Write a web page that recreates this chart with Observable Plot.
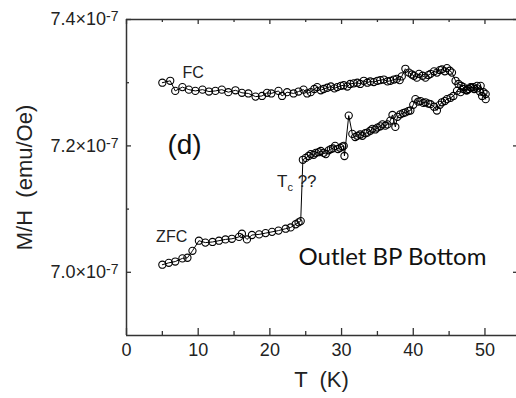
<!DOCTYPE html>
<html>
<head>
<meta charset="utf-8">
<script src="https://cdn.jsdelivr.net/npm/d3@7"></script>
<script src="https://cdn.jsdelivr.net/npm/@observablehq/plot@0.6"></script>
<style>
  html, body { margin: 0; padding: 0; background: #fff; }
  #chart { width: 516px; height: 398px; overflow: hidden; }
</style>
</head>
<body>
<div id="chart"></div>
<script>
// M/H values in units of 1e-7 emu/Oe
const fcT = [5.0, 6.1, 6.8, 7.8, 8.7, 9.6, 10.6, 11.5, 12.4, 13.3, 14.2, 15.2, 16.1, 17.0, 18.0, 18.9, 19.6, 20.2, 21.2, 21.7,
  22.4, 23.3, 24.0, 24.7, 25.2, 25.7, 26.2, 26.6, 27.1, 27.5, 28.0, 28.5, 29.0, 29.4, 29.9, 30.3, 30.8, 31.2, 31.7, 32.2,
  32.6, 33.1, 33.6, 34.0, 34.5, 35.0, 35.4, 35.9, 36.4, 36.8, 37.3, 37.7, 38.1, 38.4, 38.9, 39.4, 39.8, 40.1, 40.5, 40.8,
  41.3, 41.7, 42.1, 42.4, 42.9, 43.3, 43.7, 44.0, 44.4, 44.7, 45.1, 45.4, 45.9, 46.3, 46.7, 47.0, 47.4, 47.7, 48.1, 48.4,
  48.9, 49.4, 49.8, 50.1];
const fcM = [7.300, 7.303, 7.287, 7.293, 7.289, 7.287, 7.289, 7.286, 7.287, 7.289, 7.285, 7.288, 7.284, 7.283, 7.278, 7.279, 7.284, 7.283, 7.287, 7.279,
  7.285, 7.283, 7.286, 7.289, 7.283, 7.285, 7.290, 7.293, 7.288, 7.290, 7.292, 7.294, 7.291, 7.293, 7.295, 7.296, 7.294, 7.298, 7.299, 7.300,
  7.298, 7.303, 7.300, 7.302, 7.301, 7.303, 7.304, 7.305, 7.302, 7.303, 7.305, 7.306, 7.304, 7.310, 7.322, 7.316, 7.313, 7.311, 7.308, 7.314,
  7.311, 7.308, 7.312, 7.314, 7.318, 7.316, 7.320, 7.321, 7.318, 7.323, 7.319, 7.316, 7.303, 7.298, 7.295, 7.293, 7.288, 7.290, 7.292, 7.293,
  7.291, 7.295, 7.285, 7.274];

const zfcT = [5.0, 5.9, 6.8, 7.8, 8.5, 9.2, 10.1, 11.0, 12.0, 12.9, 13.8, 14.7, 15.7, 16.1, 16.8, 17.5, 18.5, 19.4, 20.3, 21.2,
  22.2, 22.9, 23.6, 24.0, 24.3, 24.6, 25.0, 25.4, 25.7, 26.1, 26.4, 26.8, 27.1, 27.5, 27.8, 28.2, 28.5, 28.8, 29.1, 29.5,
  29.8, 30.1, 30.3, 30.4, 31.0, 31.5, 31.9, 32.2, 32.6, 32.9, 33.3, 33.6, 34.0, 34.3, 34.7, 35.0, 35.4, 35.7, 36.1, 36.4,
  36.8, 37.1, 37.5, 37.8, 38.2, 38.6, 38.9, 39.3, 39.6, 40.0, 40.3, 40.7, 41.0, 41.4, 41.7, 42.1, 42.4, 42.9, 43.3, 43.7,
  44.0, 44.4, 44.7, 45.2, 45.6, 46.1, 46.6, 47.0, 47.5, 48.0, 48.5, 48.9, 49.3, 49.6, 50.1];
const zfcM = [7.012, 7.015, 7.017, 7.022, 7.023, 7.034, 7.050, 7.047, 7.048, 7.050, 7.052, 7.053, 7.056, 7.061, 7.052, 7.059, 7.060, 7.062, 7.064, 7.066,
  7.069, 7.071, 7.076, 7.079, 7.081, 7.178, 7.181, 7.184, 7.187, 7.186, 7.189, 7.190, 7.192, 7.189, 7.187, 7.193, 7.195, 7.196, 7.200, 7.195,
  7.197, 7.199, 7.200, 7.184, 7.248, 7.219, 7.214, 7.216, 7.218, 7.216, 7.220, 7.221, 7.224, 7.227, 7.226, 7.229, 7.231, 7.234, 7.232, 7.234,
  7.240, 7.249, 7.230, 7.246, 7.250, 7.252, 7.253, 7.255, 7.256, 7.265, 7.274, 7.270, 7.271, 7.268, 7.269, 7.267, 7.266, 7.262, 7.256, 7.265,
  7.269, 7.271, 7.274, 7.276, 7.279, 7.287, 7.285, 7.290, 7.288, 7.293, 7.290, 7.295, 7.286, 7.279, 7.282];

const xTicks = [0, 10, 20, 30, 40, 50];
const xMinor = [5, 15, 25, 35, 45];
const yTicks = [7.0, 7.2, 7.4];
const yMinor = [7.1, 7.3];
const yExponent = "-7";
const xTitle = "T  (K)";
const yTitle = "M/H  (emu/Oe)";

const annText = ["FC", "(d)", "ZFC", "Outlet BP Bottom"];
const annT = [9.3, 8.1, 6.3, 24.0];
const annM = [7.316, 7.2016, 7.0556, 7.0234];
const tcText = ["T", "c", " ??"];
const tcT = [21.0];
const tcM = [7.143];

const fc = fcT.map((t, i) => ({T: t, M: fcM[i]}));
const zfc = zfcT.map((t, i) => ({T: t, M: zfcM[i]}));
const ann = annText.map((s, i) => ({s, T: annT[i], M: annM[i]}));
const tc = tcT.map((t, i) => ({T: t, M: tcM[i], s: tcText.join("")}));

const W = 516, H = 398, mL = 126, mR = 0, mT = 19, mB = 63;
const fw = W - mL - mR, fh = H - mT - mB;
const ink = "#222";

const chart = Plot.plot({
  width: W, height: H,
  marginLeft: mL, marginRight: mR, marginTop: mT, marginBottom: mB,
  x: {domain: [0, 54.4]},
  y: {domain: [6.9, 7.4]},
  style: {fontFamily: "'Liberation Sans', Arial, sans-serif", background: "#fff", overflow: "visible"},
  marks: [
    // axis tick labels
    Plot.axisX(xTicks, {tickSize: 0, tickPadding: 8, fontSize: 18, label: null, fill: ink}),
    Plot.axisY(yTicks, {tickSize: 0, tickPadding: 8, fontSize: 18, label: null, fill: ink,
      tickFormat: d => d.toFixed(1) + "×10"}),
    // axis lines
    Plot.ruleX([0], {stroke: "#333", strokeWidth: 1.5}),
    Plot.ruleY([6.9, 7.4], {stroke: "#333", strokeWidth: 1.5}),
    // inward ticks
    Plot.tickX(xTicks, {x: d => d, insetTop: fh - 7, stroke: "#333", strokeWidth: 1.3}),
    Plot.tickX(xMinor, {x: d => d, insetTop: fh - 4, stroke: "#333", strokeWidth: 1.3}),
    Plot.tickX(xTicks, {x: d => d, insetBottom: fh - 5, stroke: "#333", strokeWidth: 1.3}),
    Plot.tickX(xMinor, {x: d => d, insetBottom: fh - 3, stroke: "#333", strokeWidth: 1.3}),
    Plot.tickY(yTicks, {y: d => d, insetRight: fw - 5, stroke: "#333", strokeWidth: 1.3}),
    Plot.tickY(yMinor, {y: d => d, insetRight: fw - 3, stroke: "#333", strokeWidth: 1.3}),
    Plot.tickY(yTicks, {y: d => d, insetLeft: fw - 3, stroke: "#333", strokeWidth: 1.3}),
    // data
    Plot.line(fc, {x: "T", y: "M", stroke: "#000", strokeWidth: 1}),
    Plot.line(zfc, {x: "T", y: "M", stroke: "#000", strokeWidth: 1}),
    Plot.dot(fc, {x: "T", y: "M", r: 3.6, stroke: "#000", strokeWidth: 1.1, fill: "none"}),
    Plot.dot(zfc, {x: "T", y: "M", r: 3.6, stroke: "#000", strokeWidth: 1.1, fill: "none"}),
    // annotations
    Plot.text(ann.slice(0, 1), {x: "T", y: "M", text: "s", fontSize: 16, fill: ink}),
    Plot.text(ann.slice(1, 2), {x: "T", y: "M", text: "s", fontSize: 28, fill: "#111"}),
    Plot.text(ann.slice(2, 3), {x: "T", y: "M", text: "s", fontSize: 16, fill: ink}),
    Plot.text(ann.slice(3, 4), {x: "T", y: "M", text: "s", fontSize: 24, fill: "#111",
      textAnchor: "start", fontFamily: "Lato, 'Open Sans', sans-serif"}),
    Plot.text(tc, {x: "T", y: "M", text: "s", fontSize: 17, fill: ink, textAnchor: "start"}),
    // axis titles
    Plot.text([xTitle], {frameAnchor: "bottom", dy: 51, fontSize: 22, fill: ink}),
    Plot.text([yTitle], {frameAnchor: "left", textAnchor: "middle", dx: -102, rotate: -90, fontSize: 22, fill: ink})
  ]
});

// superscript exponents on y tick labels
chart.querySelectorAll('g[aria-label="y-axis tick label"] text').forEach(t => {
  const sup = document.createElementNS("http://www.w3.org/2000/svg", "tspan");
  sup.setAttribute("font-size", "14");
  sup.setAttribute("dy", "-4");
  sup.textContent = yExponent;
  t.appendChild(sup);
});
// subscript for T_c ??
const tcJoined = tcText.join("");
chart.querySelectorAll("text").forEach(t => {
  if (t.textContent === tcJoined) {
    t.textContent = tcText[0];
    const sub = document.createElementNS("http://www.w3.org/2000/svg", "tspan");
    sub.setAttribute("font-size", "11");
    sub.setAttribute("dy", "4");
    sub.textContent = tcText[1];
    const rest = document.createElementNS("http://www.w3.org/2000/svg", "tspan");
    rest.setAttribute("dy", "-4");
    rest.textContent = tcText[2];
    t.appendChild(sub);
    t.appendChild(rest);
  }
});

document.getElementById("chart").appendChild(chart);
</script>
</body>
</html>
